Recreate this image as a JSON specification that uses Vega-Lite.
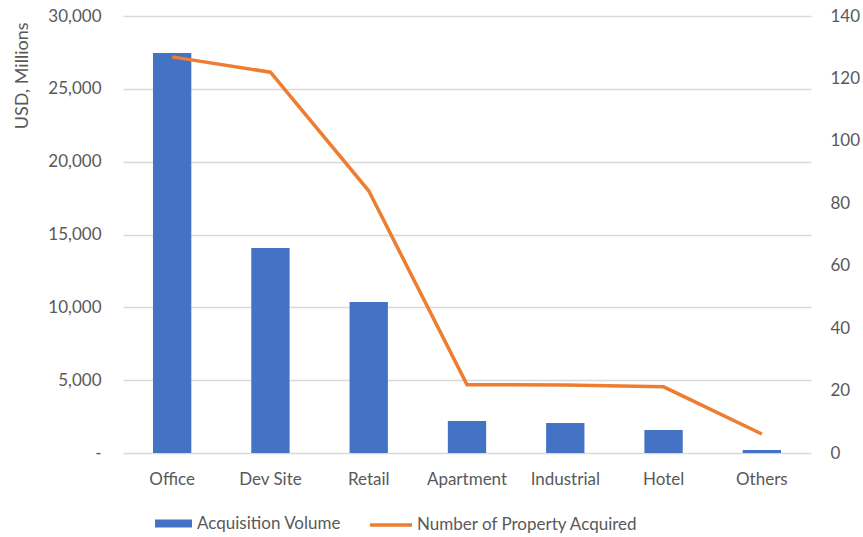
{
  "$schema": "https://vega.github.io/schema/vega-lite/v6.json",
  "width": 688,
  "height": 437,
  "autosize": {"type": "none"},
  "padding": {"left": 123, "top": 16, "right": 52, "bottom": 84},
  "background": "white",
  "config": {
    "view": {"stroke": null},
    "font": "Lato",
    "axis": {"labelFont": "Lato", "labelColor": "#595959", "labelFontSize": 17, "titleFont": "Lato", "titleColor": "#595959", "titleFontWeight": "normal", "titleFontSize": 18},
    "legend": {"labelFont": "Lato", "labelColor": "#595959", "labelFontSize": 17, "padding": 0, "labelLimit": 500}
  },
  "data": {
    "values": [
      {"category": "Office", "volume": 27460, "count": 126.9},
      {"category": "Dev Site", "volume": 14080, "count": 122.0},
      {"category": "Retail", "volume": 10370, "count": 84.0},
      {"category": "Apartment", "volume": 2200, "count": 21.9},
      {"category": "Industrial", "volume": 2060, "count": 21.8},
      {"category": "Hotel", "volume": 1580, "count": 21.2},
      {"category": "Others", "volume": 210, "count": 6.1}
    ]
  },
  "encoding": {
    "x": {
      "field": "category",
      "type": "nominal",
      "sort": null,
      "scale": {"paddingInner": 0.61, "paddingOuter": 0.305},
      "axis": {"title": null, "labelAngle": 0, "domain": false, "ticks": false, "labelPadding": 18, "grid": false}
    }
  },
  "layer": [
    {
      "mark": {"type": "bar", "color": "#4472C4"},
      "encoding": {
        "y": {
          "field": "volume",
          "type": "quantitative",
          "scale": {"domain": [0, 30000], "nice": false},
          "axis": {
            "title": "USD, Millions",
            "values": [0, 5000, 10000, 15000, 20000, 25000, 30000],
            "format": ",d",
            "labelExpr": "datum.value == 0 ? '-' : datum.label",
            "encode": {"labels": {"update": {"dx": {"signal": "datum.value == 0 ? -10 : 0"}}}},
            "domain": false,
            "ticks": false,
            "grid": true,
            "gridColor": "#d9d9d9",
            "gridWidth": 1.3,
            "labelPadding": 22,
            "titleAngle": -90,
            "titleX": -101,
            "titleY": 6,
            "titleAlign": "right",
            "titleBaseline": "middle"
          }
        },
        "color": {
          "datum": "Acquisition Volume",
          "scale": {"range": ["#4472C4"]},
          "legend": {
            "title": null,
            "orient": "none",
            "legendX": 32,
            "legendY": 489,
            "symbolType": "M-1,-0.22H1V0.22H-1Z",
            "symbolSize": 1369,
            "symbolStrokeWidth": 0,
            "labelOffset": 5
          }
        }
      }
    },
    {
      "mark": {"type": "line", "color": "#ED7D31", "strokeWidth": 3.5},
      "encoding": {
        "y": {
          "field": "count",
          "type": "quantitative",
          "scale": {"domain": [0, 140], "nice": false},
          "axis": {
            "orient": "right",
            "title": null,
            "values": [0, 20, 40, 60, 80, 100, 120, 140],
            "domain": false,
            "ticks": false,
            "grid": false,
            "labelPadding": 19
          }
        },
        "color": {
          "datum": "Number of Property Acquired",
          "scale": {"range": ["#ED7D31"]},
          "legend": {
            "title": null,
            "orient": "none",
            "legendX": 245,
            "legendY": 486,
            "symbolType": "stroke",
            "symbolSize": 1764,
            "symbolStrokeWidth": 3.5,
            "labelOffset": 3
          }
        }
      }
    }
  ],
  "resolve": {"scale": {"y": "independent", "color": "independent"}}
}
